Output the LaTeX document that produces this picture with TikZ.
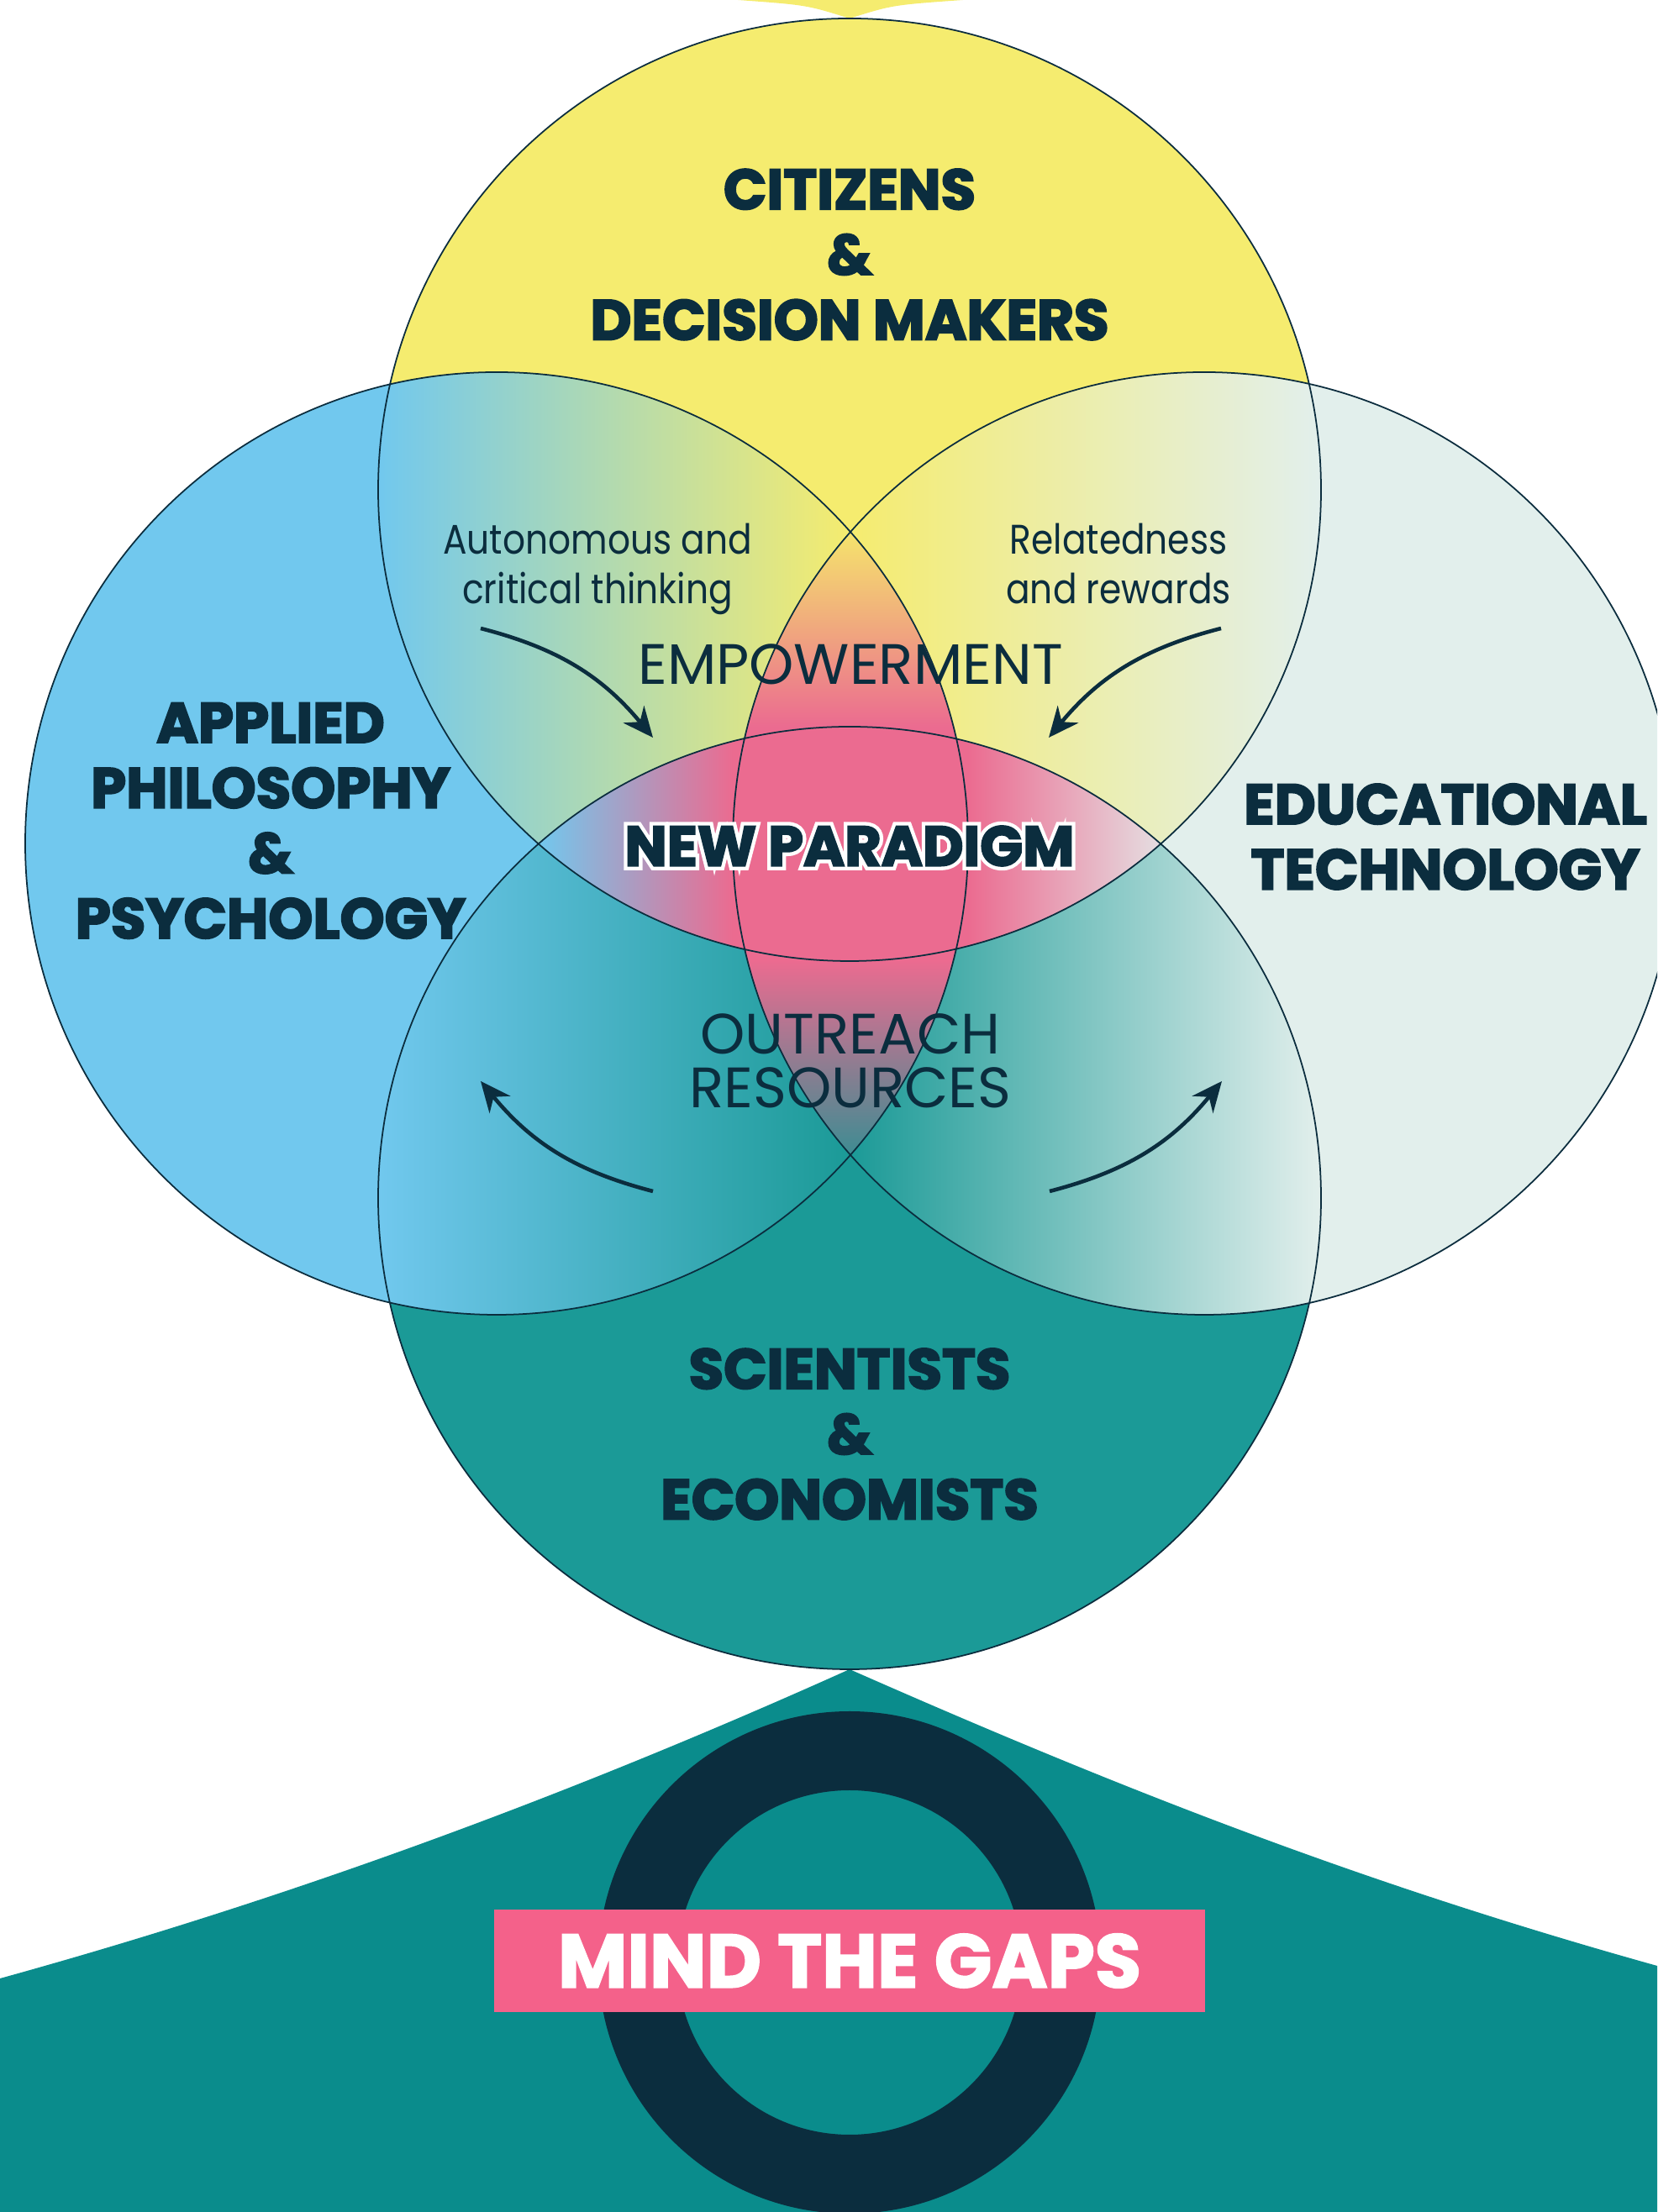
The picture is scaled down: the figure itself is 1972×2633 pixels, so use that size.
\documentclass[tikz,border=0pt]{standalone}
\usepackage{fontspec}
\setmainfont{Poppins}
\newfontfamily\notefont{Poppins}[FakeStretch=0.86]
\usepackage{xcolor}
\definecolor{cNavy}{HTML}{0B2D3E}
\definecolor{cYellow}{HTML}{F5EC6F}
\definecolor{cBlue}{HTML}{71C8EE}
\definecolor{cPale}{HTML}{E2EFEC}
\definecolor{cTeal}{HTML}{1B9A97}
\definecolor{cTealDeep}{HTML}{0A8C8C}
\definecolor{cPink}{HTML}{EB6B90}
\definecolor{cRose}{HTML}{F4618A}
\definecolor{cAmber}{HTML}{F5E46C}
\definecolor{cSlate}{HTML}{3E8C92}
\definecolor{cBlush}{HTML}{E5DEE1}
\usetikzlibrary{arrows.meta}
\tikzset{
  venn-edge/.style={draw=cNavy,line width=0.5pt},
  label-group/.style={text=cNavy,align=center,inner sep=0pt,
    font=\fontsize{19.2pt}{22.1pt}\selectfont\bfseries\addfontfeature{FakeBold=3}},
  label-note/.style={text=cNavy,align=center,inner sep=0pt,
    font=\notefont\fontsize{14pt}{16.8pt}\selectfont},
  label-theme/.style={text=cNavy,align=center,inner sep=0pt,
    font=\fontsize{19.3pt}{18.3pt}\selectfont},
  label-core/.style={text=cNavy,inner sep=0pt,
    font=\fontsize{19pt}{22pt}\selectfont\bfseries},
  arrow-flow/.style={-{Stealth[length=3.6mm,width=3.2mm]},line width=1.3pt,draw=cNavy},
}
% the four circles of the diagram (units: 0.1mm)
\newcommand\topcirc{(1011,2050) circle[radius=561]}
\newcommand\leftcirc{(591,1629) circle[radius=561]}
\newcommand\rightcirc{(1433,1629) circle[radius=561]}
\newcommand\botcirc{(1011,1207) circle[radius=561]}
% heavy text with a white rim underneath
\newcommand\rimtext[1]{{\addfontfeature{FakeBold=16}\color{white}\rlap{#1}}%
  {\addfontfeature{FakeBold=3}#1}}

\begin{document}
\begin{tikzpicture}[x=0.1mm,y=0.1mm]
  \useasboundingbox (0,0) rectangle (1972,2633);
  \clip (0,0) rectangle (1972,2633);

  % tips above and below the circles
  \fill[cYellow] (878,2633) .. controls (960,2627) .. (1011,2611)
    .. controls (1062,2627) .. (1146,2633) -- (1146,2700) -- (878,2700) -- cycle;
  \fill[cTealDeep] (1011,646) .. controls (671,493) and (340,372) .. (0,278)
    -- (0,0) -- (1972,0) -- (1972,293)
    .. controls (1632,388) and (1351,496) .. (1011,646) -- cycle;
  \fill[cNavy,even odd rule] (1011,297) circle[radius=299] (1011,297) circle[radius=205];
  \node[fill=cRose,minimum width=84.6mm,minimum height=12.2mm,inner sep=0pt,text=white,
    font=\fontsize{25.6pt}{28pt}\selectfont\bfseries\addfontfeature{FakeBold=2}]
    (gaps) at (1011,299) {MIND THE GAPS};

  % base fills
  \fill[cYellow] \topcirc;
  \fill[cBlue] \leftcirc;
  \fill[cPale] \rightcirc;
  \fill[cTeal] \botcirc;

  % pairwise overlaps
  \begin{scope}
    \clip \topcirc; \clip \leftcirc;
    \shade[left color=cBlue,right color=cYellow] (450,1060) rectangle (1011,2620);
  \end{scope}
  \begin{scope}
    \clip \topcirc; \clip \rightcirc;
    \shade[left color=cYellow,right color=cPale] (1011,1060) rectangle (1572,2620);
  \end{scope}
  \begin{scope}
    \clip \botcirc; \clip \leftcirc;
    \shade[left color=cBlue,right color=cTeal] (450,640) rectangle (1011,2200);
  \end{scope}
  \begin{scope}
    \clip \botcirc; \clip \rightcirc;
    \shade[left color=cTeal,right color=cPale] (1011,640) rectangle (1572,2200);
  \end{scope}

  % lenses and centre
  \begin{scope}
    \clip \leftcirc; \clip \rightcirc;
    \shade[top color=cAmber,bottom color=cPink] (860,1768) rectangle (1160,2000);
    \fill[cPink] (860,1489) rectangle (1160,1768);
    \shade[top color=cPink,bottom color=cSlate] (860,1258) rectangle (1160,1489);
  \end{scope}
  \begin{scope}
    \clip \topcirc; \clip \botcirc;
    \shade[left color=cBlue,right color=cPink] (640,1480) rectangle (872,1780);
    \fill[cPink] (872,1480) rectangle (1152,1780);
    \shade[left color=cPink,right color=cBlush] (1152,1480) rectangle (1382,1780);
  \end{scope}

  % outlines
  \draw[venn-edge] \topcirc \leftcirc \rightcirc \botcirc;

  % group names
  \node[label-group] (citizens) at (1011,2330) {CITIZENS\\\&\\DECISION MAKERS};
  \node[label-group] (philosophy) at (322,1656) {APPLIED\\PHILOSOPHY\\\&\\PSYCHOLOGY};
  \node[label-group] (edtech) at (1720,1637) {EDUCATIONAL\\TECHNOLOGY};
  \node[label-group] (science) at (1011,926) {SCIENTISTS\\\&\\ECONOMISTS};

  % themes
  \node[label-note] (autonomy) at (711,1956) {Autonomous and\\critical thinking};
  \node[label-note] (relatedness) at (1331,1962) {Relatedness\\and rewards};
  \node[label-theme] (empowerment) at (1012,1842) {EMPOWERMENT};
  \node[label-theme] (outreach) at (1012,1370) {OUTREACH\\RESOURCES};
  \node[label-core] (paradigm) at (1011,1626) {\rimtext{NEW PARADIGM}};

  % arrows
  \coordinate (autonomy-tail) at (572,1885);
  \coordinate (autonomy-head) at (777,1755);
  \coordinate (relatedness-tail) at (1453,1885);
  \coordinate (relatedness-head) at (1248,1755);
  \coordinate (outreach-left-tail) at (777,1215);
  \coordinate (outreach-left-head) at (572,1346);
  \coordinate (outreach-right-tail) at (1249,1215);
  \coordinate (outreach-right-head) at (1454,1346);
  \draw[arrow-flow] (autonomy-tail) to[bend left=18] (autonomy-head);
  \draw[arrow-flow] (relatedness-tail) to[bend right=18] (relatedness-head);
  \draw[arrow-flow] (outreach-left-tail) to[bend left=18] (outreach-left-head);
  \draw[arrow-flow] (outreach-right-tail) to[bend right=18] (outreach-right-head);
\end{tikzpicture}
\end{document}
